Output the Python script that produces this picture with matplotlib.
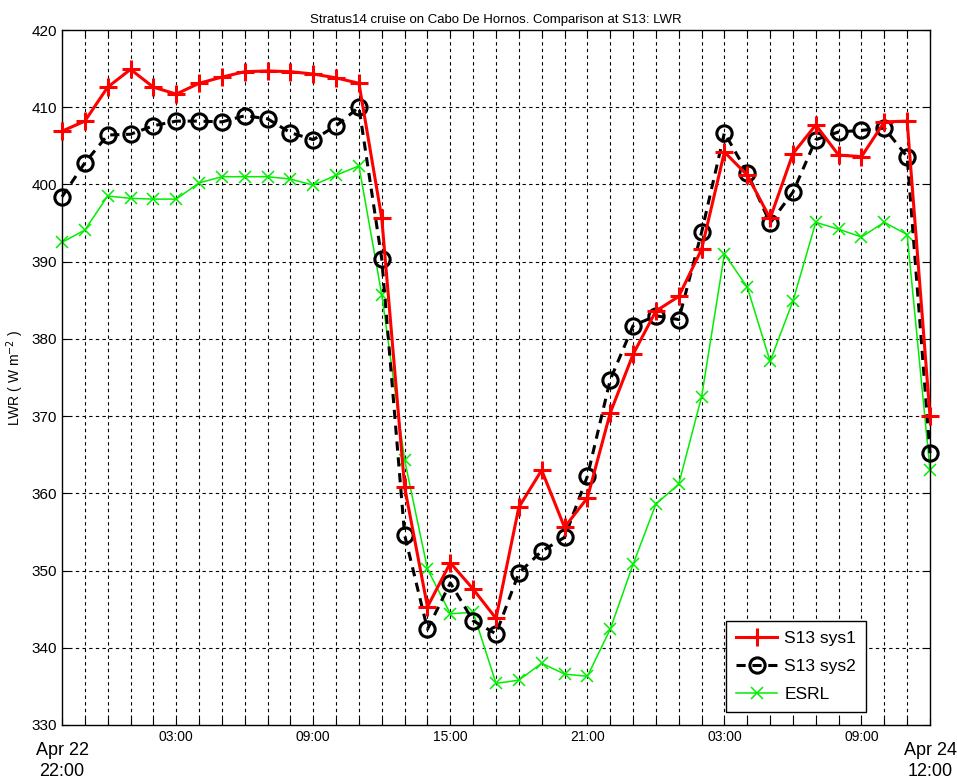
import matplotlib
matplotlib.use("Agg")
import matplotlib.pyplot as plt
from matplotlib.ticker import MultipleLocator

plt.rcParams['font.family'] = ['Liberation Sans', 'DejaVu Sans']

# hours since Apr 22 22:00, hourly samples
hours = list(range(39))

sys1 = [406.9, 408.2, 412.6, 414.9, 412.6, 411.7, 413.1, 413.9, 414.6, 414.7,
        414.6, 414.3, 413.8, 413.1, 395.6, 360.8, 345.3, 351.0, 347.6, 343.8,
        358.2, 363.0, 355.6, 359.4, 370.4, 378.0, 383.6, 385.5, 391.6, 404.2,
        401.2, 395.6, 404.0, 407.7, 403.8, 403.6, 408.1, 408.2, 370.0]

sys2 = [398.4, 402.8, 406.4, 406.5, 407.6, 408.2, 408.2, 408.1, 408.9, 408.5,
        406.7, 405.8, 407.6, 410.0, 390.3, 354.6, 342.4, 348.4, 343.5, 341.8,
        349.7, 352.5, 354.3, 362.2, 374.7, 381.7, 383.0, 382.5, 393.8, 406.7,
        401.5, 395.0, 399.0, 405.8, 406.8, 407.0, 407.3, 403.6, 365.2]

esrl = [392.5, 394.1, 398.5, 398.2, 398.1, 398.1, 400.2, 401.0, 401.0, 401.0,
        400.7, 399.9, 401.2, 402.4, 385.7, 364.3, 350.2, 344.4, 344.6, 335.4,
        335.8, 338.0, 336.6, 336.3, 342.4, 350.8, 358.6, 361.2, 372.5, 391.0,
        386.7, 377.1, 384.9, 395.1, 394.2, 393.2, 395.1, 393.5, 363.0]

tick_hours = [5, 11, 17, 23, 29, 35]
tick_labels = ['03:00', '09:00', '15:00', '21:00', '03:00', '09:00']

fig = plt.figure(figsize=(9.57, 7.8), dpi=100)
ax = fig.add_axes([62/957, 55/780, 868/957, 695/780])

ax.plot(hours, sys1, color='red', lw=2.2, marker='+', ms=13, mew=2.2,
        label='S13 sys1', zorder=4, clip_on=False)
ax.plot(hours, sys2, color='black', ls='--', lw=2.2, marker='o', ms=11,
        mfc='none', mew=2.2, dashes=(3, 2.2), label='S13 sys2', zorder=3,
        clip_on=False)
ax.plot(hours, esrl, color='#00ee00', lw=1.1, marker='x', ms=8, mew=1.1,
        label='ESRL', zorder=2, clip_on=False)

ax.set_xlim(0, 38)
ax.set_ylim(330, 420)
ax.yaxis.set_major_locator(MultipleLocator(10))
ax.xaxis.set_minor_locator(MultipleLocator(1))
ax.set_xticks(tick_hours)
ax.set_xticklabels(tick_labels, fontsize=10)
ax.tick_params(axis='y', labelsize=11)
ax.tick_params(which='both', direction='in', top=True, right=True,
               length=5, width=0.8)

# vertical hourly grid, horizontal every 10
for h in hours[1:-1]:
    ax.axvline(h, color='black', lw=0.8, ls=(0, (3, 3)), zorder=1)
for v in range(340, 420, 10):
    ax.axhline(v, color='black', lw=0.8, ls=(0, (3, 3)), zorder=1)

for s in ax.spines.values():
    s.set_linewidth(1.0)

# start / end date labels
ax.text(0, -0.025, 'Apr 22\n22:00', transform=ax.get_xaxis_transform(),
        ha='center', va='top', fontsize=13, linespacing=1.3)
ax.text(38, -0.025, 'Apr 24\n12:00', transform=ax.get_xaxis_transform(),
        ha='center', va='top', fontsize=13, linespacing=1.3)

ax.set_ylabel('LWR ( W m$^{-2}$ )', fontsize=10)
ax.set_title('Stratus14 cruise on Cabo De Hornos. Comparison at S13: LWR',
             fontsize=9.5, pad=5)

leg = ax.legend(loc='lower right', bbox_to_anchor=(0.926, 0.019),
                borderaxespad=0, fontsize=12.5, fancybox=False, framealpha=1,
                edgecolor='black', borderpad=0.55, handlelength=2.4,
                handletextpad=0.4, labelspacing=0.75)
leg.get_frame().set_linewidth(1.0)
leg.set_zorder(6)

fig.savefig('out.png', dpi=100)
